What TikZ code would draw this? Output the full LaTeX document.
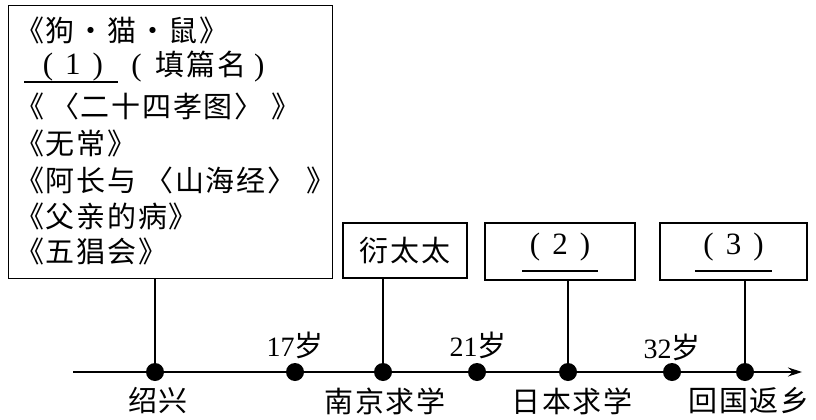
\documentclass[tikz,border=0pt]{standalone}
\usepackage{fontspec}
\setmainfont{Liberation Serif}
\newfontfamily\cjk[LetterSpace=6,Kerning=Off]{Noto Sans CJK SC}
\usetikzlibrary{arrows.meta}
\newcommand\dg[1]{{\rmfamily\fontsize{31}{31}\selectfont #1}}
\newcommand\pp[1]{\dg{(}\hspace{12pt}\dg{#1}\hspace{12pt}\dg{)}}
\begin{document}
\begin{tikzpicture}[x=1pt,y=-1pt,
  every node/.style={inner sep=0pt},
  frame/.style={draw, line width=1.3pt},
  ln/.style={line width=1.1pt},
  dotnode/.style={circle, fill, minimum size=18pt},
  txt/.style={font=\cjk\fontsize{29}{29}\selectfont, anchor=west},
  lbl/.style={font=\cjk\fontsize{29}{29}\selectfont},
  age/.style={font=\fontsize{28}{28}\selectfont}]
\useasboundingbox (0,0) rectangle (816,420);
% left box
\node[frame, minimum width=324pt, minimum height=273pt, anchor=north west] (lbox) at (7.5,5) {};
\node[txt] (t1) at (15,30) {《狗・猫・鼠》};
\node[lbl] (t2a) at (73,67) {\pp{1}};
\node[lbl] (t2b) at (198,67) {\dg{(}\hspace{14pt}填篇名\hspace{8pt}\dg{)}};
\draw[ln] (24,82) -- (118,82);
\node[txt] (t3) at (15,106) {《\hspace{6pt}〈二十四孝图〉\hspace{8pt}》};
\node[txt] (t4) at (15,143) {《无常》};
\node[txt] (t5) at (15,180) {《阿长与\hspace{8pt}〈山海经〉\hspace{10pt}》};
\node[txt] (t6) at (15,216) {《父亲的病》};
\node[txt] (t7) at (15,251) {《五猖会》};
% upper boxes
\node[frame, lbl, minimum width=124pt, minimum height=55pt] (b1) at (405,250.5) {衍太太};
\node[frame, minimum width=150pt, minimum height=57pt] (b2) at (560,251.5) {};
\node[lbl] (b2t) at (560,247) {\pp{2}};
\draw[ln] (522,271) -- (598,271);
\node[frame, minimum width=147pt, minimum height=57pt] (b3) at (733.5,251.5) {};
\node[lbl] (b3t) at (733.5,247) {\pp{3}};
\draw[ln] (695,271) -- (772,271);
% timeline
\coordinate (tstart) at (73,372);
\coordinate (tend) at (802,372);
\draw[ln, -{Stealth[length=14pt,width=9pt]}] (tstart) -- (tend);
\node[dotnode] (d1) at (155,372) {};
\node[dotnode] (d2) at (295,372) {};
\node[dotnode] (d3) at (383,372) {};
\node[dotnode] (d4) at (477,372) {};
\node[dotnode] (d5) at (568,372) {};
\node[dotnode] (d6) at (672,372) {};
\node[dotnode] (d7) at (745,372) {};
% connectors
\draw[ln] (lbox.south -| d1) -- (d1);
\draw[ln] (b1.south -| d3) -- (d3);
\draw[ln] (b2.south -| d5) -- (d5);
\draw[ln] (b3.south -| d7) -- (d7);
% ages
\node[age] (a1) at (295,345) {17{\cjk\fontsize{29}{29}\selectfont 岁}};
\node[age] (a2) at (478,345) {21{\cjk\fontsize{29}{29}\selectfont 岁}};
\node[age] (a3) at (672,347) {32{\cjk\fontsize{29}{29}\selectfont 岁}};
% places
\node[lbl] (p1) at (158,401) {绍兴};
\node[lbl] (p2) at (385,401) {南京求学};
\node[lbl] (p3) at (572,401) {日本求学};
\node[lbl] (p4) at (749,401) {回国返乡};
\end{tikzpicture}
\end{document}
